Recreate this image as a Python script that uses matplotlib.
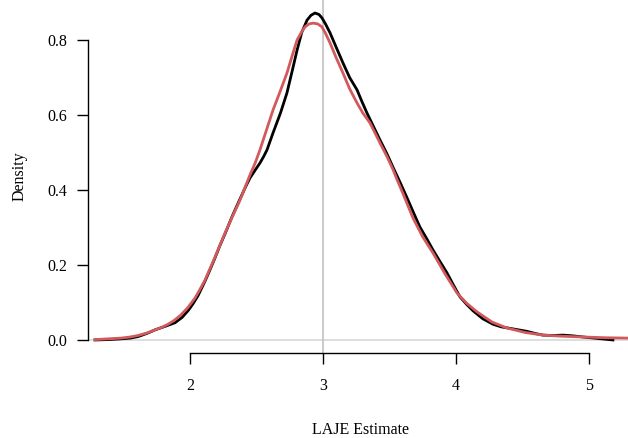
import matplotlib
matplotlib.use("Agg")
import matplotlib.pyplot as plt

# Black curve: density of LAJE estimates
black_x = [1.286, 1.38, 1.481, 1.55, 1.609, 1.68, 1.737, 1.81, 1.887, 1.94,
           1.985, 2.02, 2.06, 2.113, 2.15, 2.188, 2.225, 2.263, 2.32, 2.376,
           2.42, 2.451, 2.49, 2.526, 2.555, 2.579, 2.624, 2.68, 2.729, 2.77,
           2.805, 2.84, 2.88, 2.91, 2.94, 2.97, 2.992, 3.02, 3.053, 3.10,
           3.15, 3.20, 3.256, 3.29, 3.331, 3.38, 3.429, 3.48, 3.526, 3.58,
           3.632, 3.68, 3.729, 3.78, 3.827, 3.88, 3.932, 3.98, 4.03, 4.08,
           4.128, 4.20, 4.278, 4.34, 4.406, 4.47, 4.534, 4.60, 4.654, 4.73,
           4.805, 4.88, 4.955, 5.07, 5.18]
black_y = [0.000, 0.001, 0.003, 0.005, 0.009, 0.018, 0.027, 0.036, 0.046, 0.060,
           0.078, 0.095, 0.118, 0.157, 0.187, 0.219, 0.252, 0.283, 0.332, 0.376,
           0.410, 0.432, 0.453, 0.472, 0.490, 0.507, 0.552, 0.605, 0.659, 0.720,
           0.773, 0.820, 0.853, 0.866, 0.872, 0.868, 0.859, 0.842, 0.819, 0.780,
           0.739, 0.700, 0.667, 0.638, 0.605, 0.569, 0.533, 0.497, 0.461, 0.420,
           0.379, 0.340, 0.301, 0.270, 0.240, 0.209, 0.179, 0.147, 0.115, 0.095,
           0.078, 0.057, 0.042, 0.035, 0.031, 0.027, 0.023, 0.017, 0.013, 0.012,
           0.013, 0.011, 0.008, 0.004, 0.000]

# Red curve: comparison density
red_x = [1.286, 1.38, 1.481, 1.55, 1.609, 1.68, 1.737, 1.79, 1.835, 1.88,
         1.932, 1.985, 2.038, 2.075, 2.113, 2.15, 2.188, 2.263, 2.32, 2.376,
         2.451, 2.49, 2.526, 2.575, 2.624, 2.68, 2.729, 2.77, 2.805, 2.84,
         2.865, 2.895, 2.925, 2.96, 2.992, 3.02, 3.053, 3.10, 3.15, 3.20,
         3.256, 3.30, 3.353, 3.39, 3.429, 3.48, 3.526, 3.56, 3.602, 3.677,
         3.75, 3.827, 3.92, 4.008, 4.08, 4.158, 4.27, 4.383, 4.52, 4.654,
         4.80, 4.955, 5.12, 5.30]
red_y = [0.001, 0.003, 0.005, 0.008, 0.012, 0.019, 0.027, 0.034, 0.042, 0.052,
         0.067, 0.087, 0.112, 0.135, 0.160, 0.190, 0.221, 0.285, 0.330, 0.373,
         0.440, 0.472, 0.507, 0.560, 0.613, 0.665, 0.712, 0.760, 0.800, 0.822,
         0.835, 0.843, 0.845, 0.843, 0.835, 0.817, 0.792, 0.752, 0.712, 0.670,
         0.632, 0.605, 0.579, 0.553, 0.525, 0.490, 0.455, 0.425, 0.390, 0.325,
         0.275, 0.232, 0.175, 0.125, 0.098, 0.075, 0.048, 0.032, 0.020, 0.013,
         0.010, 0.008, 0.006, 0.005]

x_ticks = [2, 3, 4, 5]
y_ticks = [0.0, 0.2, 0.4, 0.6, 0.8]
ref_value = 3

plt.rcParams['font.family'] = ['Liberation Serif', 'DejaVu Serif']

W, H = 628, 438
fig = plt.figure(figsize=(W / 100, H / 100), dpi=100)
ax = fig.add_axes([88 / W, (H - 353) / H, (632 - 88) / W, 353 / H])

ax.axhline(0, color='#d4d4d4', lw=1.1, zorder=1)
ax.axvline(ref_value, color='#bdbdbd', lw=1.1, zorder=1)
ax.plot(black_x, black_y, color='black', lw=2.0, solid_joinstyle='round', zorder=3)
ax.plot(red_x, red_y, color='#d25a5d', lw=2.0, solid_joinstyle='round', zorder=4)

ax.set_xlim(1.2331, 5.3233)
ax.set_ylim(-0.0347, 0.9067)

for s in ['top', 'right']:
    ax.spines[s].set_visible(False)
ax.spines['left'].set_bounds(0, 0.8)
ax.spines['bottom'].set_bounds(2, 5)
ax.spines['left'].set_linewidth(1.0)
ax.spines['bottom'].set_linewidth(1.0)

ax.set_xticks(x_ticks)
ax.set_xticklabels([str(v) for v in x_ticks])
ax.set_yticks(y_ticks)
ax.set_yticklabels(['%.1f' % v for v in y_ticks])
ax.tick_params(axis='both', length=8, width=1.0, labelsize=11.5)
ax.tick_params(axis='x', pad=10)
ax.tick_params(axis='y', pad=7)

ax.set_xlabel('LAJE Estimate', fontsize=11.5, labelpad=20)
ax.set_ylabel('Density', fontsize=11.5, labelpad=14)

fig.savefig('out.png', dpi=100)
